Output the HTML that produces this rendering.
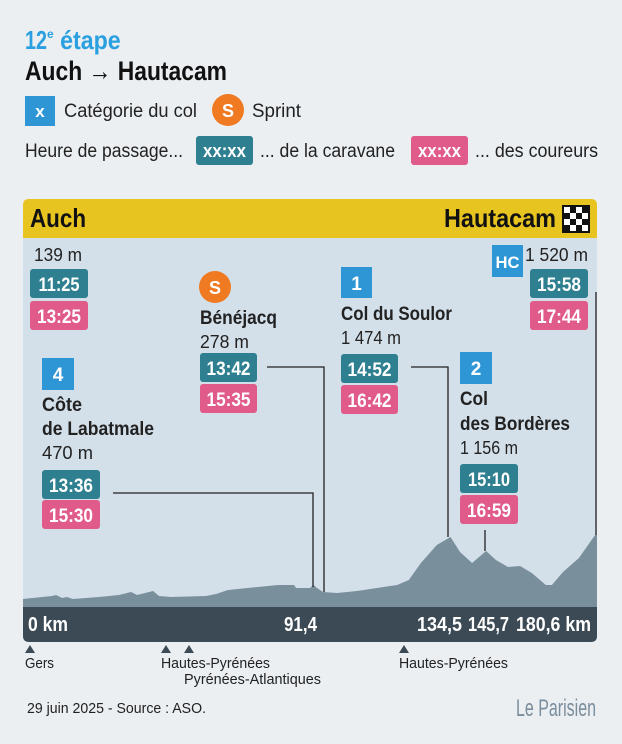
<!DOCTYPE html>
<html><head><meta charset="utf-8"><style>
html,body{margin:0;padding:0;background:#eceff2;}
svg{display:block;font-family:"Liberation Sans",sans-serif;}
.b{font-weight:bold;}
</style></head><body>
<svg id="c" width="622" height="744" viewBox="0 0 622 744" xmlns="http://www.w3.org/2000/svg">
<rect width="622" height="744" fill="#eceff2"/>
<text x="25" y="49" font-size="26" class="b" fill="#2aa0e0"><tspan textLength="22" lengthAdjust="spacingAndGlyphs">12</tspan><tspan font-size="12" dy="-11">e</tspan><tspan dy="11" textLength="67" lengthAdjust="spacingAndGlyphs"> étape</tspan></text>
<text x="25" y="80" font-size="27" class="b" fill="#111" textLength="202" lengthAdjust="spacingAndGlyphs">Auch → Hautacam</text>
<g>
<rect x="25" y="96" width="30" height="30" fill="#2f96d6"/>
<text x="40" y="117" font-size="17" class="b" fill="#fff" text-anchor="middle">x</text>
<text x="64" y="117" font-size="19" fill="#222" textLength="133" lengthAdjust="spacingAndGlyphs">Catégorie du col</text>
</g>
<g>
<circle cx="228" cy="110" r="16" fill="#ef7a22"/>
<text x="228" y="117" font-size="18" class="b" fill="#fff" text-anchor="middle">S</text>
<text x="252" y="117" font-size="19" fill="#222" textLength="49" lengthAdjust="spacingAndGlyphs">Sprint</text>
</g>
<g>
<text x="25" y="157" font-size="19" fill="#222" textLength="158" lengthAdjust="spacingAndGlyphs">Heure de passage...</text>
<rect x="196" y="136" width="57" height="29" rx="3" fill="#2e7f8f"/>
<text x="224.5" y="157" font-size="18" class="b" fill="#fff" text-anchor="middle" textLength="43" lengthAdjust="spacingAndGlyphs">xx:xx</text>
<text x="260" y="157" font-size="19" fill="#222" textLength="135" lengthAdjust="spacingAndGlyphs">... de la caravane</text>
<rect x="411" y="136" width="57" height="29" rx="3" fill="#e05a8a"/>
<text x="439.5" y="157" font-size="18" class="b" fill="#fff" text-anchor="middle" textLength="43" lengthAdjust="spacingAndGlyphs">xx:xx</text>
<text x="475" y="157" font-size="19" fill="#222" textLength="123" lengthAdjust="spacingAndGlyphs">... des coureurs</text>
</g>
<path d="M23 238 V205 Q23 199 29 199 H591 Q597 199 597 205 V238 Z" fill="#e8c420"/>
<text x="30" y="227" font-size="26" class="b" fill="#111" textLength="56" lengthAdjust="spacingAndGlyphs">Auch</text>
<text x="444" y="227" font-size="26" class="b" fill="#111" textLength="112" lengthAdjust="spacingAndGlyphs">Hautacam</text>
<g id="flag"></g>
<rect x="23" y="238" width="574" height="369" fill="#d3dfe9"/>
<g id="prof"></g>
<g id="lines" stroke="#222" stroke-width="1.3" fill="none">
<polyline points="113,493 313,493 313,587"/>
<polyline points="267,367 324,367 324,592"/>
<polyline points="411,367 448,367 448,537"/>
<polyline points="485,530 485,551"/>
<polyline points="596,292 596,535"/>
</g>
<path d="M23 607 H597 V636 Q597 642 591 642 H29 Q23 642 23 636 Z" fill="#3b4a54"/>
<g font-size="20" class="b" fill="#fff">
<text x="28" y="631" textLength="40" lengthAdjust="spacingAndGlyphs">0 km</text>
<text x="284" y="631" textLength="33" lengthAdjust="spacingAndGlyphs">91,4</text>
<text x="417" y="631" textLength="45" lengthAdjust="spacingAndGlyphs">134,5</text>
<text x="468" y="631" textLength="41" lengthAdjust="spacingAndGlyphs">145,7</text>
<text x="516" y="631" textLength="75" lengthAdjust="spacingAndGlyphs">180,6 km</text>
</g>
<g fill="#3b4a54">
<path d="M25 653 L30 645 L35 653Z"/><path d="M161 653 L166 645 L171 653Z"/><path d="M184 653 L189 645 L194 653Z"/><path d="M399 653 L404 645 L409 653Z"/>
</g>
<g font-size="15" fill="#222">
<text x="25" y="668" textLength="29" lengthAdjust="spacingAndGlyphs">Gers</text>
<text x="161" y="668" textLength="109" lengthAdjust="spacingAndGlyphs">Hautes-Pyrénées</text>
<text x="184" y="684" textLength="137" lengthAdjust="spacingAndGlyphs">Pyrénées-Atlantiques</text>
<text x="399" y="668" textLength="109" lengthAdjust="spacingAndGlyphs">Hautes-Pyrénées</text>
</g>
<text x="27" y="713" font-size="15" fill="#222" textLength="179" lengthAdjust="spacingAndGlyphs">29 juin 2025 - Source : ASO.</text>
<text x="516" y="716" font-size="24" fill="#7a8d9c" textLength="80" lengthAdjust="spacingAndGlyphs">Le Parisien</text>

<g>
<text x="34" y="261" font-size="18" fill="#222" textLength="48" lengthAdjust="spacingAndGlyphs">139 m</text>
<rect x="30" y="269" width="58" height="29" rx="3" fill="#2e7f8f"/><text x="59" y="291" font-size="19" class="b" fill="#fff" text-anchor="middle" textLength="41" lengthAdjust="spacingAndGlyphs">11:25</text>
<rect x="30" y="301" width="58" height="29" rx="3" fill="#e05a8a"/><text x="59" y="323" font-size="19" class="b" fill="#fff" text-anchor="middle" textLength="44" lengthAdjust="spacingAndGlyphs">13:25</text>
</g>
<g>
<circle cx="215" cy="287" r="16" fill="#ef7a22"/><text x="215" y="294" font-size="18" class="b" fill="#fff" text-anchor="middle">S</text>
<text x="200" y="324" font-size="19" class="b" fill="#222" textLength="77" lengthAdjust="spacingAndGlyphs">Bénéjacq</text>
<text x="200" y="348" font-size="18" fill="#222" textLength="49" lengthAdjust="spacingAndGlyphs">278 m</text>
<rect x="200" y="353" width="57" height="29" rx="3" fill="#2e7f8f"/><text x="228.5" y="375" font-size="19" class="b" fill="#fff" text-anchor="middle" textLength="44" lengthAdjust="spacingAndGlyphs">13:42</text>
<rect x="200" y="384" width="57" height="29" rx="3" fill="#e05a8a"/><text x="228.5" y="406" font-size="19" class="b" fill="#fff" text-anchor="middle" textLength="44" lengthAdjust="spacingAndGlyphs">15:35</text>
</g>
<g>
<rect x="341" y="267" width="31" height="31" fill="#2f96d6"/><text x="356.5" y="290" font-size="19" class="b" fill="#fff" text-anchor="middle">1</text>
<text x="341" y="320" font-size="19" class="b" fill="#222" textLength="111" lengthAdjust="spacingAndGlyphs">Col du Soulor</text>
<text x="341" y="344" font-size="18" fill="#222" textLength="60" lengthAdjust="spacingAndGlyphs">1 474 m</text>
<rect x="341" y="354" width="57" height="29" rx="3" fill="#2e7f8f"/><text x="369.5" y="376" font-size="19" class="b" fill="#fff" text-anchor="middle" textLength="44" lengthAdjust="spacingAndGlyphs">14:52</text>
<rect x="341" y="385" width="57" height="29" rx="3" fill="#e05a8a"/><text x="369.5" y="407" font-size="19" class="b" fill="#fff" text-anchor="middle" textLength="44" lengthAdjust="spacingAndGlyphs">16:42</text>
</g>
<g>
<rect x="492" y="245" width="31" height="32" fill="#2f96d6"/><text x="507.5" y="268" font-size="17" class="b" fill="#fff" text-anchor="middle" textLength="24" lengthAdjust="spacingAndGlyphs">HC</text>
<text x="525" y="261" font-size="18" fill="#222" textLength="63" lengthAdjust="spacingAndGlyphs">1 520 m</text>
<rect x="530" y="269" width="58" height="29" rx="3" fill="#2e7f8f"/><text x="559" y="291" font-size="19" class="b" fill="#fff" text-anchor="middle" textLength="44" lengthAdjust="spacingAndGlyphs">15:58</text>
<rect x="530" y="301" width="58" height="29" rx="3" fill="#e05a8a"/><text x="559" y="323" font-size="19" class="b" fill="#fff" text-anchor="middle" textLength="44" lengthAdjust="spacingAndGlyphs">17:44</text>
</g>
<g>
<rect x="42" y="358" width="32" height="32" fill="#2f96d6"/><text x="58" y="381" font-size="19" class="b" fill="#fff" text-anchor="middle">4</text>
<text x="42" y="411" font-size="19" class="b" fill="#222" textLength="40" lengthAdjust="spacingAndGlyphs">Côte</text>
<text x="42" y="435" font-size="19" class="b" fill="#222" textLength="112" lengthAdjust="spacingAndGlyphs">de Labatmale</text>
<text x="42" y="459" font-size="18" fill="#222" textLength="51" lengthAdjust="spacingAndGlyphs">470 m</text>
<rect x="42" y="470" width="58" height="29" rx="3" fill="#2e7f8f"/><text x="71" y="492" font-size="19" class="b" fill="#fff" text-anchor="middle" textLength="44" lengthAdjust="spacingAndGlyphs">13:36</text>
<rect x="42" y="500" width="58" height="29" rx="3" fill="#e05a8a"/><text x="71" y="522" font-size="19" class="b" fill="#fff" text-anchor="middle" textLength="44" lengthAdjust="spacingAndGlyphs">15:30</text>
</g>
<g>
<rect x="460" y="352" width="32" height="32" fill="#2f96d6"/><text x="476" y="375" font-size="19" class="b" fill="#fff" text-anchor="middle">2</text>
<text x="460" y="405" font-size="19" class="b" fill="#222" textLength="28" lengthAdjust="spacingAndGlyphs">Col</text>
<text x="460" y="430" font-size="19" class="b" fill="#222" textLength="110" lengthAdjust="spacingAndGlyphs">des Bordères</text>
<text x="460" y="454" font-size="18" fill="#222" textLength="58" lengthAdjust="spacingAndGlyphs">1 156 m</text>
<rect x="460" y="464" width="58" height="29" rx="3" fill="#2e7f8f"/><text x="489" y="486" font-size="19" class="b" fill="#fff" text-anchor="middle" textLength="42" lengthAdjust="spacingAndGlyphs">15:10</text>
<rect x="460" y="495" width="58" height="29" rx="3" fill="#e05a8a"/><text x="489" y="517" font-size="19" class="b" fill="#fff" text-anchor="middle" textLength="44" lengthAdjust="spacingAndGlyphs">16:59</text>
</g>
</svg>
<script>
const distanceKm = [0,9.1,10.4,12.3,13.8,15.7,23.9,30.2,34.0,35.9,40.9,42.8,46.6,57.6,60.7,64.5,67.6,80.2,85.3,85.9,90.3,91.4,92.5,94.4,98.8,105.1,111.4,117.7,121.4,125.2,130.2,134.5,137.5,141.3,145.7,148.8,152.6,156.4,160.1,164.5,166.4,169.9,174.9,180.0,180.6];
const altitudeM = [168,232,253,190,210,168,210,253,316,253,337,232,210,232,274,358,379,463,463,400,400,463,400,316,295,337,400,463,568,926,1305,1474,1158,926,1180,990,842,863,716,463,463,737,1031,1516,1520];
const X0=23,X1=597,Y0=607,KMAX=180.6,PXM=0.0475;
function xs(km){return X0+km/KMAX*(X1-X0);}
function ys(a){return Y0-a*PXM;}
const NS="http://www.w3.org/2000/svg";
let d="M"+xs(0)+" "+Y0;
for(let i=0;i<distanceKm.length;i++){d+=" L"+xs(distanceKm[i]).toFixed(1)+" "+ys(altitudeM[i]).toFixed(1);}
d+=" L"+xs(KMAX)+" "+Y0+" Z";
const p=document.createElementNS(NS,"path");
p.setAttribute("d",d);p.setAttribute("fill","#7a8f9c");


document.getElementById("prof").appendChild(p);
const f=document.getElementById("flag");
const bg=document.createElementNS(NS,"rect");
bg.setAttribute("x",562);bg.setAttribute("y",205);bg.setAttribute("width",28);bg.setAttribute("height",28);bg.setAttribute("fill","#111");


f.appendChild(bg);
for(let r=0;r<4;r++)for(let c=0;c<4;c++){if((r+c)%2==0){const s=document.createElementNS(NS,"rect");
s.setAttribute("x",564+c*6);s.setAttribute("y",207+r*6);s.setAttribute("width",6);s.setAttribute("height",6);s.setAttribute("fill","#fff");


f.appendChild(s);}}
</script>
</body></html>
